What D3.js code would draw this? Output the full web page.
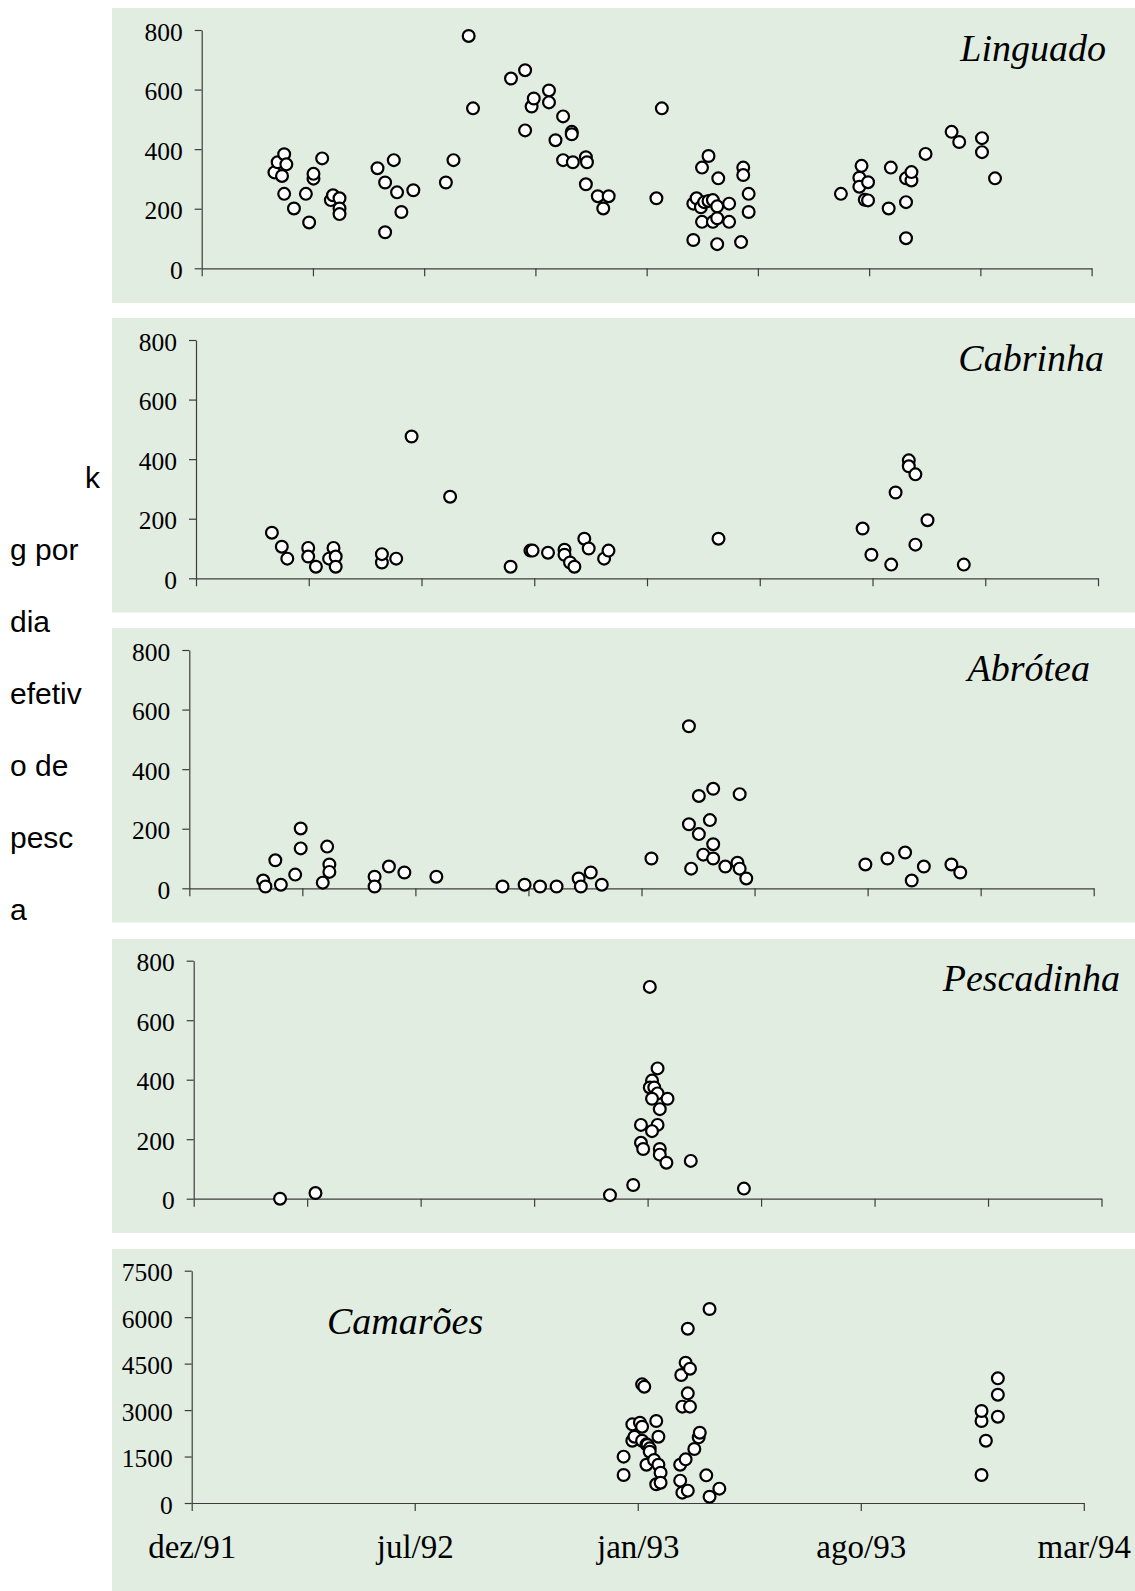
<!DOCTYPE html>
<html>
<head>
<meta charset="utf-8">
<script src="https://cdn.jsdelivr.net/npm/d3@7/dist/d3.min.js"></script>
<style>
body { margin: 0; background: #fff; }
svg { display: block; }
.tick text { font-family: "Liberation Serif", "Times New Roman", serif; fill: #000; }
</style>
</head>
<body>
<svg id="chart" width="1135" height="1591"></svg>
<script>
// x = days after the dez/91 tick (15 Dec 1991), y = kg por dia efetivo de pesca
var linguado = [
  [67,322],[70,356],[76,383],[78,349],[74,310],[76,250],[85,201],[96,250],[99,154],
  [103,301],[103,317],[111,369],[119,229],[121,245],[127,235],[127,201],[127,182],
  [162,336],[169,288],[177,363],[169,121],[180,255],[184,189],[195,262],[225,288],
  [232,363],[246,780],[250,537],[285,637],[298,665],[298,463],[304,543],[306,570],
  [320,597],[320,557],[326,430],[333,510],[333,363],[341,458],[341,450],[342,356],
  [354,373],[355,356],[354,282],[365,242],[370,201],[375,242],
  [424,537],[419,235],[453,95],[453,217],[456,235],[460,205],[461,338],[461,156],
  [463,222],[467,377],[467,226],[471,229],[471,156],[475,208],[475,168],[475,81],
  [476,302],[486,217],[486,156],[497,88],[499,338],[499,313],[504,250],[504,189],
  [589,250],[606,304],[606,274],[608,344],[614,289],[611,230],[614,228],[633,201],
  [635,338],[649,302],[649,222],[649,101],[654,295],[654,323],[667,384],[691,458],
  [698,424],[719,437],[719,390],[731,302]
];
var cabrinha = [
  [69,153],[78,106],[83,66],[102,102],[102,73],[109,39],[121,66],[125,102],[127,73],
  [127,39],[169,53],[169,81],[182,66],[196,476],[231,274],[286,39],[304,93],[306,93],
  [320,86],[335,96],[335,79],[340,53],[344,39],[353,133],[357,100],[371,66],[375,93],
  [475,133],[606,167],[614,79],[632,46],[636,288],[648,396],[648,376],[654,349],
  [654,113],[665,195],[698,46]
];
var abrotea = [
  [67,26],[69,6],[78,94],[83,12],[96,46],[101,134],[101,201],[121,19],[125,140],
  [127,80],[127,55],[168,39],[168,6],[181,73],[195,53],[224,39],[284,6],[304,12],
  [318,6],[333,6],[353,33],[355,6],[364,53],[374,12],
  [419,100],[453,544],[455,66],[453,215],[462,310],[462,182],[466,113],[472,229],
  [475,334],[475,148],[475,100],[486,73],[497,86],[499,66],[499,316],[505,33],
  [613,80],[633,100],[649,120],[655,26],[666,73],[691,80],[699,53]
];
var pescadinha = [
  [78,0],[110,19],[376,12],[397,46],[412,712],[419,438],[414,397],[412,374],[416,374],
  [419,354],[414,336],[428,336],[421,301],[404,248],[419,248],[414,227],[404,188],
  [406,167],[421,167],[421,148],[427,121],[449,127],[497,34]
];
var camaroes = [
  [397,1496],[397,904],[405,2539],[405,2012],[407,2141],[412,2593],[414,2464],[414,2012],
  [414,3831],[416,3755],[418,1894],[419,1872],[418,1237],[421,1765],[421,1657],[425,1388],
  [427,2647],[429,2141],[429,1237],[431,979],[427,603],[431,656],[449,1237],[449,721],
  [451,334],[456,398],[454,1410],[450,4132],[454,4530],[458,4336],[456,3540],[451,3110],
  [458,3110],[456,5628],[462,1743],[466,2120],[467,2270],[473,893],[476,6263],[476,204],
  [485,463],[726,904],[730,2012],[726,2647],[726,2970],[741,2787],[741,3497],[741,4024]
];

var speciesNames = ["Linguado", "Cabrinha", "Abrótea", "Pescadinha", "Camarões"];
var fishTicks = [0, 200, 400, 600, 800];
var shrimpTicks = [0, 1500, 3000, 4500, 6000, 7500];
var monthLabels = ["dez/91", "jul/92", "jan/93", "ago/93", "mar/94"];
var yLabelLines = ["k", "g por", "dia", "efetiv", "o de", "pesc", "a"];

var start = new Date(1991, 11, 15);
var DAY = 864e5;
function dayToDate(d) { return new Date(start.getTime() + d * DAY); }
var end = dayToDate(820);

// each panel: background box, axis box, label place
var panels = [
  {name: speciesNames[0], data: linguado,   ticks: fishTicks,   top: 8,    bot: 303,  x0: 201.7, x1: 1091.6, yTop: 30,     yBot: 268.3, lx: 1106, ly: 61,   anchor: "end"},
  {name: speciesNames[1], data: cabrinha,   ticks: fishTicks,   top: 318,  bot: 612.5, x0: 196,  x1: 1098,   yTop: 340,    yBot: 578.3, lx: 1104, ly: 371,  anchor: "end"},
  {name: speciesNames[2], data: abrotea,    ticks: fishTicks,   top: 628,  bot: 922.5, x0: 189.3, x1: 1093.7, yTop: 650,    yBot: 888.3, lx: 1090, ly: 681,  anchor: "end"},
  {name: speciesNames[3], data: pescadinha, ticks: fishTicks,   top: 939,  bot: 1233, x0: 193.7, x1: 1101.5, yTop: 960.7,  yBot: 1198.7, lx: 1120, ly: 991, anchor: "end"},
  {name: speciesNames[4], data: camaroes,   ticks: shrimpTicks, top: 1249, bot: 1591, x0: 191.7, x1: 1083.8, yTop: 1270.7, yBot: 1503, lx: 327, ly: 1334,  anchor: "start", bottom: true}
];

var svg = d3.select("#chart");

panels.forEach(function (p) {
  var g = svg.append("g");

  g.append("rect")
    .attr("x", 112).attr("y", p.top)
    .attr("width", 1135 - 112).attr("height", p.bot - p.top)
    .attr("fill", "#e2ede2");

  var x = d3.scaleTime().domain([start, end]).range([p.x0, p.x1]);
  var y = d3.scaleLinear().domain([0, p.ticks[p.ticks.length - 1]]).range([p.yBot, p.yTop]);

  var xTicks;
  if (p.bottom) {
    xTicks = d3.range(5).map(function (i) { return dayToDate(i * 205); });
  } else {
    xTicks = d3.range(9).map(function (i) { return dayToDate(i * 102.5); });
  }

  var xAxis = g.append("g")
    .attr("transform", "translate(0," + p.yBot + ")")
    .call(d3.axisBottom(x).tickValues(xTicks).tickSize(8).tickSizeOuter(0)
      .tickPadding(24)
      .tickFormat(function (d, i) { return p.bottom ? monthLabels[i] : ""; }));
  xAxis.selectAll("text").style("font-size", "33px");

  var yAxis = g.append("g")
    .attr("transform", "translate(" + p.x0 + ",0)")
    .call(d3.axisLeft(y).tickValues(p.ticks).tickSize(7).tickSizeOuter(0).tickPadding(12)
      .tickFormat(d3.format("d")));
  yAxis.selectAll("text").style("font-size", "25.5px").attr("dy", "0.4em");

  g.selectAll(".domain, .tick line").attr("stroke", "#3c3c3c").attr("stroke-width", 1.2);

  g.selectAll("circle.pt")
    .data(p.data)
    .enter().append("circle")
    .attr("class", "pt")
    .attr("cx", function (d) { return x(dayToDate(d[0])); })
    .attr("cy", function (d) { return y(d[1]); })
    .attr("r", 5.9)
    .attr("fill", "#fff")
    .attr("stroke", "#000")
    .attr("stroke-width", 2.2);

  g.append("text")
    .attr("x", p.lx).attr("y", p.ly)
    .attr("text-anchor", p.anchor)
    .style("font-family", "'Liberation Serif', 'Times New Roman', serif")
    .style("font-style", "italic")
    .style("font-size", "38px")
    .text(p.name);
});

// broken y label, as in the original
svg.append("g").selectAll("text")
  .data(yLabelLines)
  .enter().append("text")
  .attr("x", function (d, i) { return i === 0 ? 85 : 10; })
  .attr("y", function (d, i) { return 488 + i * 72; })
  .style("font-family", "'Liberation Sans', Arial, sans-serif")
  .style("font-size", "30px")
  .text(function (d) { return d; });
</script>
</body>
</html>
